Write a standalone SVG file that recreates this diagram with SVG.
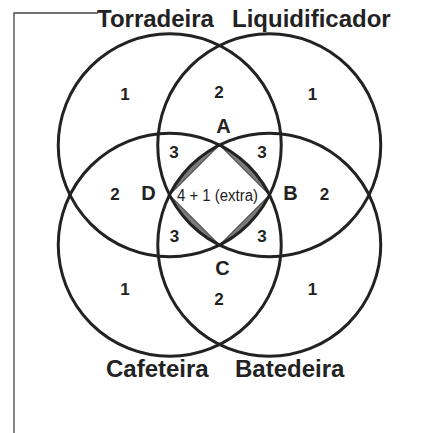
<svg xmlns="http://www.w3.org/2000/svg" width="426" height="433" viewBox="0 0 426 433">
<style>
.c{fill:none;stroke:#222;stroke-width:3}
.lens{fill:#7a7a7a;stroke:#222;stroke-width:1}
.t{font-family:"Liberation Sans",Arial,sans-serif;font-weight:bold;fill:#222}
.title{font-size:24px}
.n{font-size:17px;text-anchor:middle}
.L{font-size:20px;text-anchor:middle}
.x{font-family:"Liberation Sans",Arial,sans-serif;font-size:16px;fill:#222;text-anchor:middle}
.frame{stroke:#444;stroke-width:1.3;fill:none}
</style>
<rect width="426" height="433" fill="#fff"/>
<path class="frame" d="M98,13 H14 V433"/>
<g id="shading">
<path class="lens" d="M219.5,145 L169.5,195 A111.5 111.5 0 0 1 219.5,145 Z"/>
<path class="lens" d="M269.5,195 L219.5,145 A111.5 111.5 0 0 1 269.5,195 Z"/>
<path class="lens" d="M219.5,245 L269.5,195 A111.5 111.5 0 0 1 219.5,245 Z"/>
<path class="lens" d="M169.5,195 L219.5,245 A111.5 111.5 0 0 1 169.5,195 Z"/>
</g>
<g id="torradeira">
<circle class="c" cx="169.75" cy="145.25" r="111.5"/>
<text class="t title" x="97" y="27">Torradeira</text>
</g>
<g id="liquidificador">
<circle class="c" cx="269.25" cy="145.25" r="111.5"/>
<text class="t title" x="232" y="27">Liquidificador</text>
</g>
<g id="cafeteira">
<circle class="c" cx="169.75" cy="244.75" r="111.5"/>
<text class="t title" x="106" y="377">Cafeteira</text>
</g>
<g id="batedeira">
<circle class="c" cx="269.25" cy="244.75" r="111.5"/>
<text class="t title" x="235" y="377">Batedeira</text>
</g>
<g id="connectors"></g>
<g id="labels">
<text class="t n" x="125" y="100">1</text>
<text class="t n" x="219" y="98">2</text>
<text class="t n" x="312.5" y="100">1</text>
<text class="t L" x="223.5" y="133">A</text>
<text class="t n" x="174" y="158">3</text>
<text class="t n" x="262" y="158">3</text>
<text class="t n" x="115" y="200">2</text>
<text class="t L" x="148.5" y="200">D</text>
<text class="x" x="217.5" y="201" textLength="81" lengthAdjust="spacingAndGlyphs">4 + 1 (extra)</text>
<text class="t L" x="290.5" y="200">B</text>
<text class="t n" x="324.5" y="200">2</text>
<text class="t n" x="174.5" y="241.5">3</text>
<text class="t n" x="262" y="241.5">3</text>
<text class="t L" x="222.5" y="275">C</text>
<text class="t n" x="125" y="295">1</text>
<text class="t n" x="219" y="305">2</text>
<text class="t n" x="312.5" y="295">1</text>
</g>
</svg>
